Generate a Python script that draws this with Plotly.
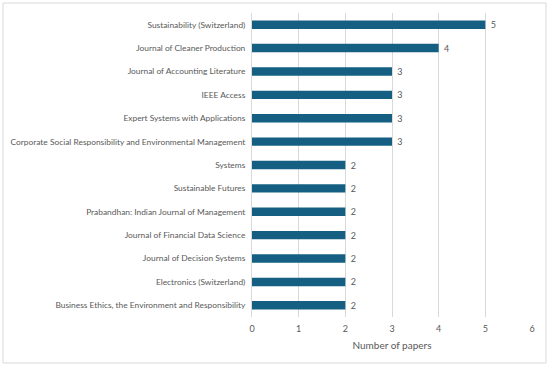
import plotly.graph_objects as go

journals = [
    "Sustainability (Switzerland)",
    "Journal of Cleaner Production",
    "Journal of Accounting Literature",
    "IEEE Access",
    "Expert Systems with Applications",
    "Corporate Social Responsibility and Environmental Management",
    "Systems",
    "Sustainable Futures",
    "Prabandhan: Indian Journal of Management",
    "Journal of Financial Data Science",
    "Journal of Decision Systems",
    "Electronics (Switzerland)",
    "Business Ethics, the Environment and Responsibility",
]
papers = [5, 4, 3, 3, 3, 3, 2, 2, 2, 2, 2, 2, 2]
x_ticks = [0, 1, 2, 3, 4, 5, 6]

TEXT = "#595959"
FONT = "Lato"

fig = go.Figure(
    go.Bar(
        x=papers,
        y=journals,
        orientation="h",
        marker=dict(color="#156082", line=dict(width=0)),
        width=0.36,
        text=[f" {v}" for v in papers],
        textposition="outside",
        constraintext="none",
        textfont=dict(color=TEXT, size=9, family=FONT),
        cliponaxis=False,
    )
)

fig.update_layout(
    width=550,
    height=367,
    margin=dict(l=252, r=18, t=13, b=50, autoexpand=False),
    paper_bgcolor="white",
    plot_bgcolor="white",
    font=dict(family=FONT, size=8.4, color=TEXT),
    showlegend=False,
    xaxis=dict(
        range=[0, 6],
        tickvals=x_ticks,
        showgrid=True,
        gridcolor="#d9d9d9",
        gridwidth=1,
        zeroline=False,
        showline=False,
        ticks="",
        automargin=False,
        ticklabelstandoff=5,
        tickfont=dict(size=9, color=TEXT),
        title=dict(text="Number of papers", font=dict(size=10, color=TEXT), standoff=8),
        fixedrange=True,
    ),
    yaxis=dict(
        autorange="reversed",
        showgrid=False,
        showline=True,
        linecolor="#d9d9d9",
        linewidth=1,
        ticks="",
        automargin=False,
        ticklabelstandoff=4,
        tickfont=dict(size=8.4, color=TEXT),
        fixedrange=True,
    ),
    shapes=[
        dict(
            type="rect",
            xref="paper",
            yref="paper",
            x0=(3 - 252) / 280,
            x1=(546 - 252) / 280,
            y0=-(363 - 317) / 304,
            y1=1 + (13 - 3) / 304,
            line=dict(color="#d9d9d9", width=1),
            fillcolor="rgba(0,0,0,0)",
            layer="below",
        )
    ],
)

fig.write_html(
    "out.html",
    config={"displayModeBar": False},
    post_script="document.body.style.margin='0';document.body.style.overflow='hidden';",
)
